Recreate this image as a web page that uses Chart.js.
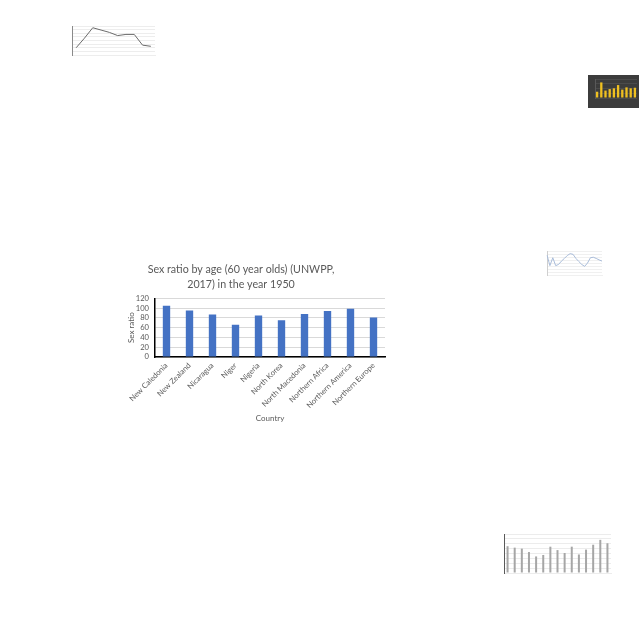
<!DOCTYPE html>
<html>
<head>
<meta charset="utf-8">
<script src="https://cdn.jsdelivr.net/npm/chart.js@4.4.1/dist/chart.umd.min.js"></script>
<style>
  html, body { margin: 0; padding: 0; background: #ffffff; }
  body { width: 640px; height: 640px; position: relative; overflow: hidden; }
  .box { position: absolute; }
  canvas { display: block; }
</style>
</head>
<body>
<div class="box" style="left:90px;top:255px;"><canvas id="main" width="310" height="175"></canvas></div>
<div class="box" style="left:58px;top:18px;"><canvas id="t1" width="100" height="75"></canvas></div>
<div class="box" style="left:588px;top:75px;background:#3c3c3c;"><canvas id="t2" width="51" height="33"></canvas></div>
<div class="box" style="left:533px;top:243px;"><canvas id="t3" width="77" height="42"></canvas></div>
<div class="box" style="left:477px;top:522px;"><canvas id="t4" width="140" height="82"></canvas></div>
<script>
// ---- main chart data ----
const categories = ['New Caledonia', 'New Zealand', 'Nicaragua', 'Niger', 'Nigeria',
  'North Korea', 'North Macedonia', 'Northern Africa', 'Northern America', 'Northern Europe'];
const sexRatio = [105, 95, 87, 66, 85, 75, 88, 94, 99, 81];
const yMin = 0;
const yMax = 120;
const yStep = 20;
const titleLines = ['Sex ratio by age (60 year olds) (UNWPP,', '2017) in the year 1950'];
const xTitle = 'Country';
const yTitle = 'Sex ratio';

// ---- thumbnail data (small background charts) ----
const thumb1Values = [25, 58, 94, 86, 78, 67, 71, 71, 34, 30];
const thumb2Values = [33, 82, 39, 47, 51, 68, 44, 56, 51, 54];
const thumb3Values = [83, 39, 72, 39, 44, 58, 69, 81, 89, 86, 69, 56, 44, 36, 50, 72, 74, 69, 63, 58];
const thumb4Values = [55, 52, 50, 43, 34, 37, 54, 47, 41, 54, 38, 48, 58, 68, 61];

const FONT = 'Lato, "Open Sans", "DejaVu Sans", sans-serif';
const TXT = '#595959';

new Chart(document.getElementById('main'), {
  type: 'bar',
  data: {
    labels: categories,
    datasets: [{
      data: sexRatio,
      backgroundColor: '#4472c4',
      barPercentage: 0.32,
      categoryPercentage: 1.0
    }]
  },
  options: {
    responsive: false,
    animation: false,
    devicePixelRatio: 1,
    layout: { padding: { left: 7, right: 15, top: 0, bottom: 7 } },
    plugins: {
      legend: { display: false },
      tooltip: { enabled: false },
      title: {
        display: true,
        text: titleLines,
        color: TXT,
        font: { family: FONT, size: 10.7, weight: 'normal', lineHeight: 1.42 },
        padding: { top: 7, bottom: 6 }
      }
    },
    scales: {
      x: {
        grid: { display: false, drawTicks: false },
        border: { color: '#000000', width: 1.5 },
        ticks: { color: TXT, font: { family: FONT, size: 7.6 }, minRotation: 45, maxRotation: 45, padding: 4, autoSkip: false },
        title: { display: true, text: xTitle, color: TXT, font: { family: FONT, size: 8 }, padding: 0 },
        afterFit: s => { s.height = 66; }
      },
      y: {
        min: yMin, max: yMax,
        ticks: { stepSize: yStep, color: TXT, font: { family: FONT, size: 7.6 }, padding: 6, autoSkip: false },
        grid: { color: '#d9d9d9', drawTicks: false },
        border: { color: '#000000', width: 1.5 },
        title: { display: true, text: yTitle, color: TXT, font: { family: FONT, size: 8 }, padding: { top: 30, bottom: 0 } },
        afterFit: s => { s.width = 58; }
      }
    }
  }
});

function thumbScales(maxV, step, gridColor, axisColor, showX, offsetX) {
  return {
    x: {
      display: true,
      offset: offsetX,
      grid: { display: false, drawTicks: false },
      border: { display: showX, color: gridColor, width: 1 },
      ticks: { display: false },
      afterFit: s => { s.height = 0; }
    },
    y: {
      min: 0, max: maxV,
      display: true,
      ticks: { display: false, stepSize: step },
      grid: { color: gridColor, drawTicks: false, lineWidth: 1 },
      border: { color: axisColor, width: 1 },
      afterFit: s => { s.width = 0; }
    }
  };
}
const baseOpts = {
  responsive: false, animation: false, devicePixelRatio: 1,
  plugins: { legend: { display: false }, tooltip: { enabled: false }, title: { display: false } }
};

new Chart(document.getElementById('t1'), {
  type: 'line',
  data: { labels: thumb1Values.map((_, i) => i), datasets: [{ data: thumb1Values, borderColor: '#6b6b6b', borderWidth: 1, pointRadius: 0, tension: 0 }] },
  options: Object.assign({}, baseOpts, {
    layout: { padding: { left: 14, right: 3, top: 8, bottom: 38 } },
    scales: thumbScales(100, 12.5, '#ededed', '#8a8a8a', true, true)
  })
});

new Chart(document.getElementById('t2'), {
  type: 'bar',
  data: { labels: thumb2Values.map((_, i) => i), datasets: [{ data: thumb2Values, backgroundColor: '#f0c020', barPercentage: 0.55, categoryPercentage: 1 }] },
  options: Object.assign({}, baseOpts, {
    layout: { padding: { left: 7, right: 2, top: 4, bottom: 10 } },
    scales: thumbScales(100, 25, 'rgba(255,255,255,0.08)', 'rgba(255,255,255,0.15)', false, true)
  })
});

new Chart(document.getElementById('t3'), {
  type: 'line',
  data: { labels: thumb3Values.map((_, i) => i), datasets: [{ data: thumb3Values, borderColor: '#a9bcd9', borderWidth: 1, pointRadius: 0, tension: 0 }] },
  options: Object.assign({}, baseOpts, {
    layout: { padding: { left: 14, right: 8, top: 8, bottom: 10 } },
    scales: thumbScales(100, 12.5, '#f0f0f0', '#cfcfcf', true, false)
  })
});

new Chart(document.getElementById('t4'), {
  type: 'bar',
  data: { labels: thumb4Values.map((_, i) => i), datasets: [{ data: thumb4Values, backgroundColor: '#a6a6a6', barPercentage: 0.28, categoryPercentage: 1 }] },
  options: Object.assign({}, baseOpts, {
    layout: { padding: { left: 27, right: 6, top: 12, bottom: 31 } },
    scales: thumbScales(80, 10, '#ececec', '#595959', true, true)
  })
});
</script>
</body>
</html>
